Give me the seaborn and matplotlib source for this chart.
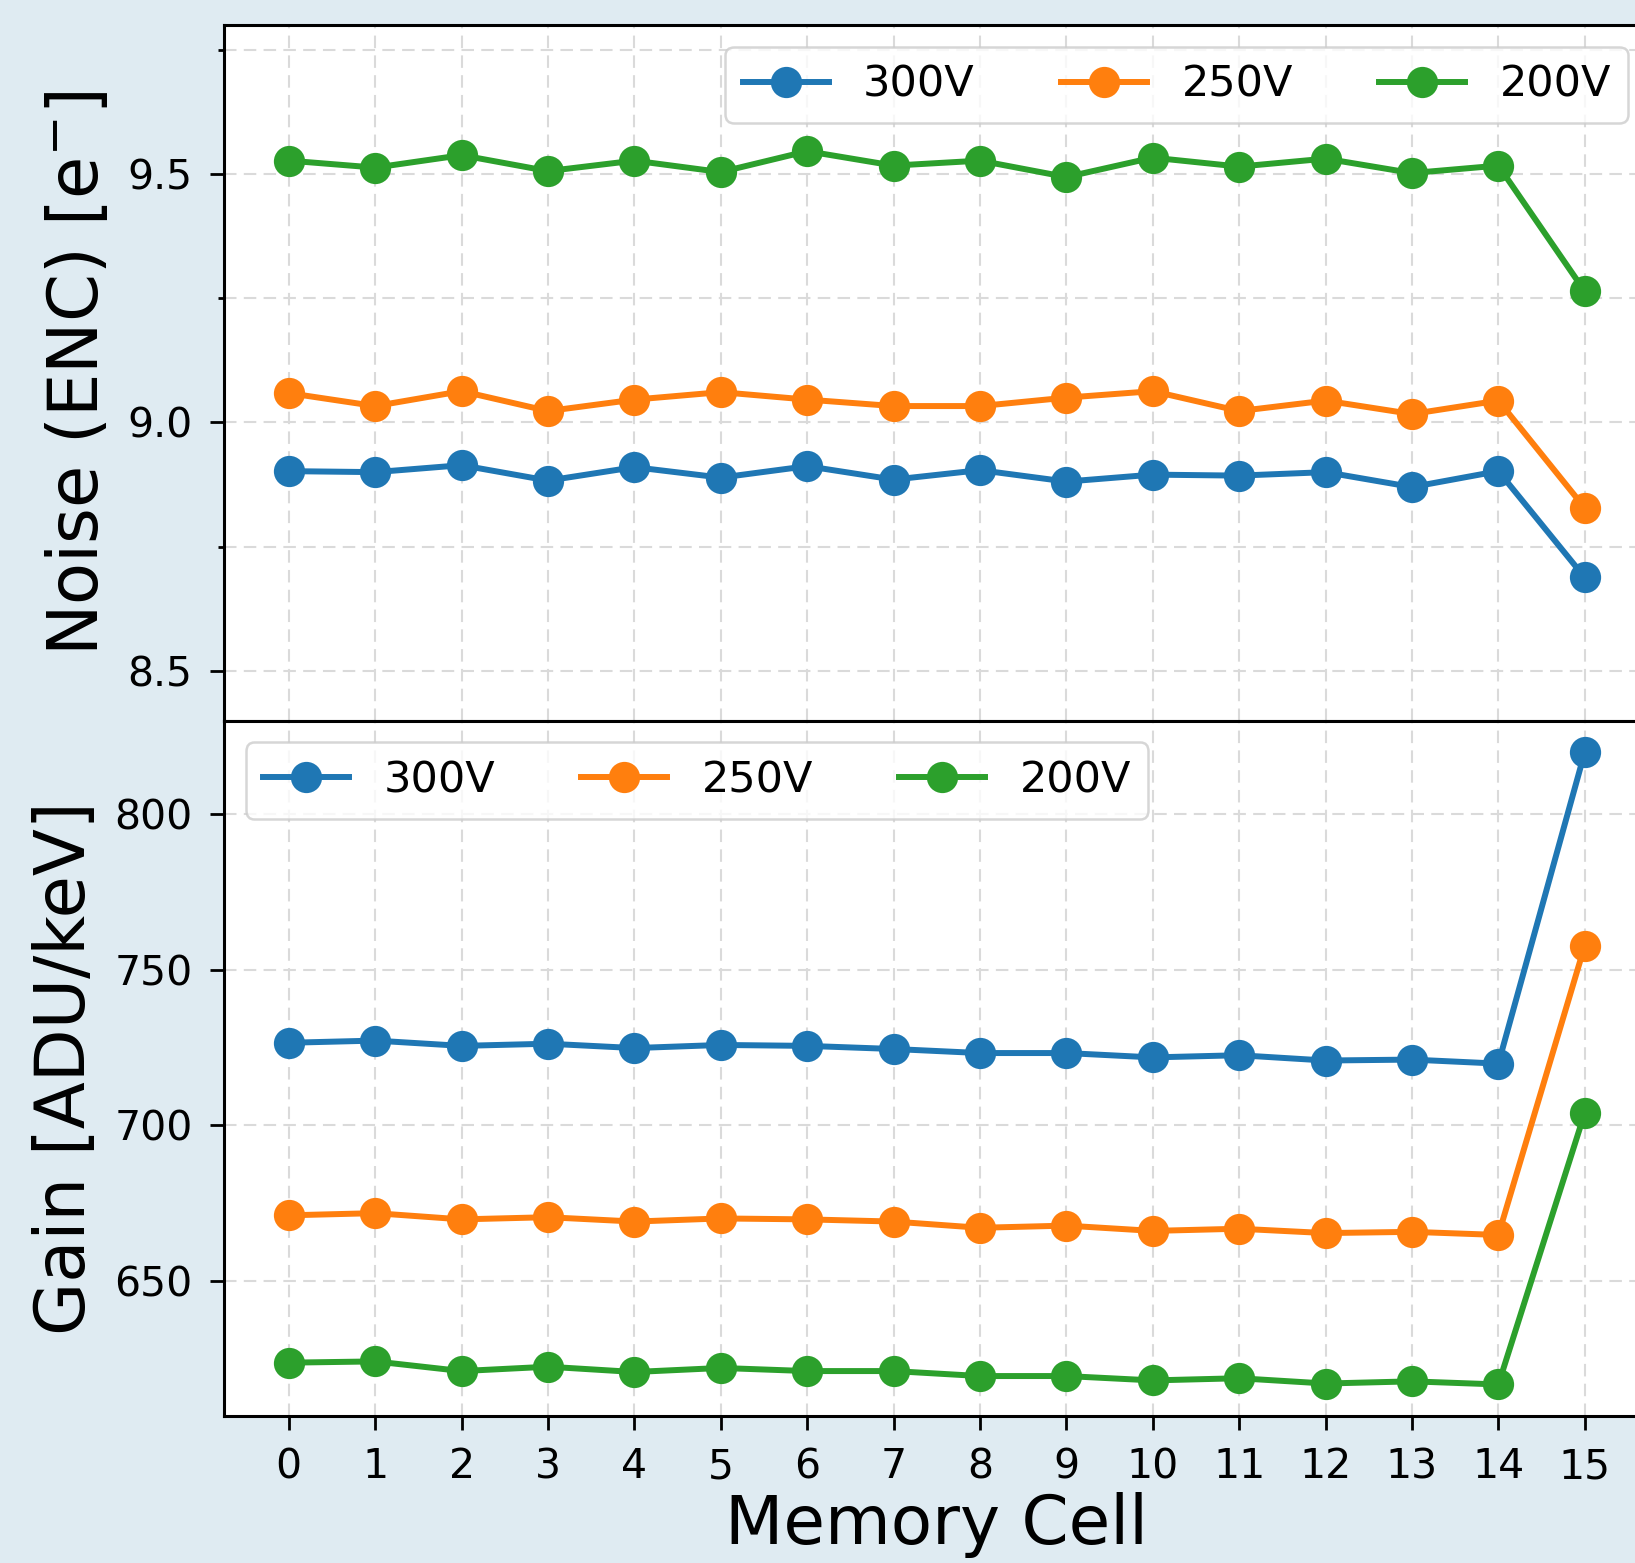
import numpy as np
import pandas as pd
import matplotlib
matplotlib.use("Agg")
import matplotlib.pyplot as plt
from matplotlib.ticker import MultipleLocator
import seaborn as sns

# ---- data ----
cells = list(range(16))
voltages = ["300V", "250V", "200V"]
colors = ["#1f77b4", "#ff7f0e", "#2ca02c"]

noise_300 = [8.902, 8.900, 8.914, 8.883, 8.910, 8.889, 8.912, 8.885,
             8.904, 8.881, 8.895, 8.893, 8.900, 8.870, 8.902, 8.688]
noise_250 = [9.059, 9.033, 9.063, 9.023, 9.046, 9.061, 9.046, 9.033,
             9.033, 9.050, 9.063, 9.023, 9.044, 9.017, 9.044, 8.828]
noise_200 = [9.527, 9.513, 9.538, 9.506, 9.527, 9.504, 9.546, 9.517,
             9.527, 9.494, 9.533, 9.515, 9.531, 9.502, 9.517, 9.264]

gain_300 = [726.5, 727.2, 725.5, 726.2, 724.8, 725.8, 725.5, 724.5,
            723.2, 723.2, 721.8, 722.5, 720.8, 721.1, 719.8, 819.8]
gain_250 = [671.1, 671.8, 669.8, 670.5, 669.1, 670.1, 669.8, 669.1,
            667.1, 667.8, 666.1, 666.8, 665.4, 665.8, 664.8, 757.7]
gain_200 = [623.8, 624.2, 621.1, 622.5, 620.8, 622.1, 621.1, 621.1,
            619.5, 619.5, 618.1, 618.8, 617.1, 617.8, 616.8, 704.0]

noise_series = [noise_300, noise_250, noise_200]
gain_series = [gain_300, gain_250, gain_200]

rows = []
for v, nz, gn in zip(voltages, noise_series, gain_series):
    for c, n, g in zip(cells, nz, gn):
        rows.append({"cell": c, "voltage": v, "noise": n, "gain": g})
df = pd.DataFrame(rows)

# ---- style ----
plt.rcParams.update({
    "font.family": ["DejaVu Sans"],
    "axes.linewidth": 2.2,
    "xtick.major.width": 2.0,
    "ytick.major.width": 2.0,
    "xtick.major.size": 10,
    "ytick.major.size": 10,
    "xtick.major.pad": 12.5,
    "ytick.major.pad": 12.5,
    "ytick.minor.size": 4.5,
    "ytick.minor.width": 2.0,
    "xtick.labelsize": 29.5,
    "ytick.labelsize": 29.5,
    "legend.fontsize": 31,
})

BG = "#dfebf2"
fig = plt.figure(figsize=(16.35, 15.63), dpi=100, facecolor=BG)
left, width = 0.1370, 0.8719
ax1 = fig.add_axes([left, 0.5390, width, 0.4450])
ax2 = fig.add_axes([left, 0.0940, width, 0.4450], sharex=ax1)

grid_kw = dict(linestyle=(0, (6, 3.5)), color="#dadada", linewidth=1.5)

for ax, ycol in [(ax1, "noise"), (ax2, "gain")]:
    ax.set_facecolor("white")
    ax.set_axisbelow(True)
    sns.lineplot(data=df, x="cell", y=ycol, hue="voltage", hue_order=voltages,
                 palette=colors, marker="o", markersize=22.5, linewidth=4.3,
                 markeredgewidth=0, errorbar=None, legend=False, ax=ax)
    ax.grid(True, which="major", **grid_kw)

# top panel
ax1.set_ylim(8.4, 9.8)
ax1.yaxis.set_major_locator(MultipleLocator(0.5))
ax1.yaxis.set_minor_locator(MultipleLocator(0.25))
ax1.yaxis.grid(True, which="minor", **grid_kw)
ax1.set_ylabel("Noise (ENC) [e$^{-}$]", fontsize=49.5, labelpad=11)
ax1.set_xlabel("")
ax1.tick_params(axis="x", labelbottom=False, bottom=False)
ax1.legend(handles=ax1.get_lines()[:3], labels=voltages, loc="upper right",
           ncol=3, fontsize=31, framealpha=0.8, edgecolor="0.8")

# bottom panel
ax2.set_xlim(-0.75, 15.75)
ax2.set_xticks(cells)
ax2.set_xticklabels([str(c) for c in cells])
ax2.yaxis.set_major_locator(MultipleLocator(50))
ax2.set_ylabel("Gain [ADU/keV]", fontsize=49.5, labelpad=11)
ax2.set_xlabel("Memory Cell", fontsize=48.7, labelpad=3.5)
ax2.legend(handles=ax2.get_lines()[:3], labels=voltages, loc="upper left",
           ncol=3, fontsize=31, framealpha=0.8, edgecolor="0.8")

for ax in (ax1, ax2):
    leg = ax.get_legend()
    leg.get_frame().set_linewidth(1.8)

fig.savefig("out.png", dpi=100, facecolor=BG)
